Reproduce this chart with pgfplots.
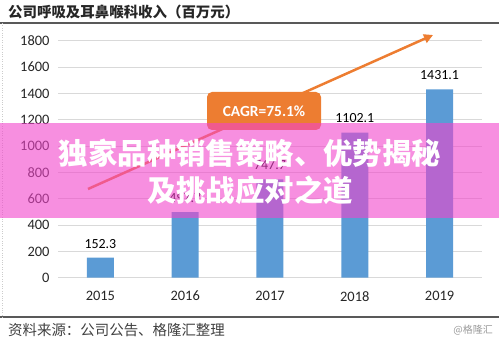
\documentclass[border=0pt]{standalone}
\usepackage{pgfplots}
\pgfplotsset{compat=1.18}
\usetikzlibrary{arrows.meta}
\usepackage{fontspec}
\setmainfont{Carlito}
\newfontfamily\cjk{Noto Sans CJK SC}
\definecolor{barblue}{HTML}{5B9BD5}
\definecolor{orng}{HTML}{ED7D31}
\definecolor{pinkov}{RGB}{242,68,203}
\begin{document}
\begin{tikzpicture}
\useasboundingbox (0,0) rectangle (499bp,342bp);
\begin{axis}[
 at={(58bp,64.3bp)}, anchor=south west, scale only axis, width=424bp, height=237bp,
 xmin=-0.5, xmax=4.5, ymin=0, ymax=1800,
 ytick={0,200,...,1800}, xtick={0,1,2,3,4}, xticklabels={2015,2016,2017,2018,2019},
 axis line style={draw=none}, major tick length=0pt,
 ymajorgrids, grid style={color=black!15, line width=0.8bp},
 /pgf/number format/assume math mode=true, /pgf/number format/1000 sep={},
 tick label style={font=\fontsize{14.5}{16}\selectfont, text=black!85},
 yticklabel style={xshift=-5bp},
 xticklabel style={yshift=-10bp},
 clip=false,
]
\addplot[ybar, bar width=27bp, fill=barblue, draw=none, point meta=explicit symbolic, nodes near coords, nodes near coords style={font=\fontsize{14}{16}\selectfont, text=black, yshift=6bp}] coordinates {(0,152.3)[152.3] (1,497.7)[497.7] (2,747.7)[747.7] (3,1102.1)[1102.1] (4,1431.1)[1431.1]};
\end{axis}
% frame lines
\draw[line width=2bp, black!65] (0,319.3bp) -- (499bp,319.3bp);
\draw[line width=2bp, black!65] (0,24.5bp) -- (499bp,24.5bp);
\draw[black!20, dotted] (2bp,24.5bp) -- (2bp,319.3bp);
% title and footer
\node[anchor=west, inner sep=0, font=\cjk\bfseries\fontsize{14.5}{16}\selectfont, text=black!85] at (8bp,330bp) {公司呼吸及耳鼻喉科收入（百万元）};
\node[anchor=west, inner sep=0, font=\cjk\fontsize{14.5}{16}\selectfont, text=black!75] at (8bp,12bp) {资料来源：公司公告、格隆汇整理};
\node[anchor=east, inner sep=0, font=\cjk\fontsize{10}{12}\selectfont, text=black!40] at (493bp,12bp) {@格隆汇};
% CAGR arrow and box
\draw[orng, line width=2.5bp, -{Triangle[length=9bp,width=9bp]}] (88bp,153bp) -- (433bp,307bp);
\node[fill=orng, rounded corners=5bp, minimum width=114bp, minimum height=38bp, text=white, font=\bfseries\fontsize{15.5}{17}\selectfont] at (264bp,231bp) {CAGR=75.1\%};
% overlay banner
\fill[pinkov, opacity=0.6] (0,124bp) rectangle (499bp,219bp);
\node[text=white, font=\cjk\bfseries\fontsize{29.5}{32}\selectfont] at (250bp,189bp) {独家品种销售策略、优势揭秘};
\node[text=white, font=\cjk\bfseries\fontsize{29.5}{32}\selectfont] at (250bp,152bp) {及挑战应对之道};
\end{tikzpicture}
\end{document}
